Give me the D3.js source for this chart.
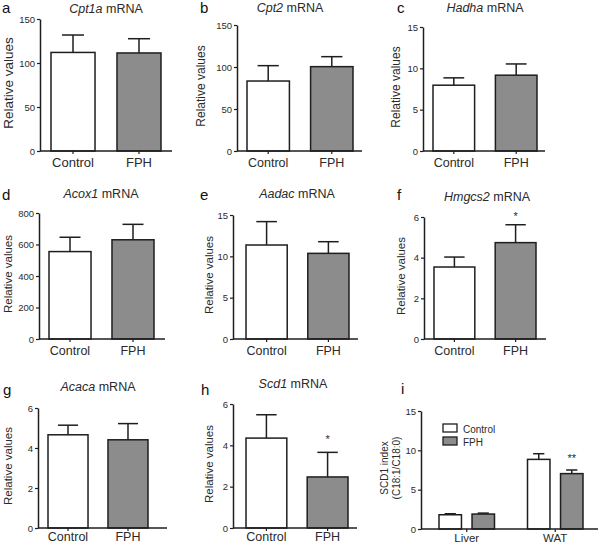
<!DOCTYPE html>
<html><head><meta charset="utf-8">
<script src="https://cdn.jsdelivr.net/npm/d3@7"></script>
<style>
body{margin:0;background:#fff;}
svg{display:block;font-family:"Liberation Sans",Arial,sans-serif;}
</style></head>
<body><svg id="chart" width="600" height="545"></svg>
<script>
// ---- data ----
const groups = ["Control", "FPH"];
const panelLetters = ["a","b","c","d","e","f","g","h"];
const genes = ["Cpt1a","Cpt2","Hadha","Acox1","Aadac","Hmgcs2","Acaca","Scd1"];
const ctrlMean = [112, 83.3, 7.96, 555, 11.37, 3.54, 4.66, 4.35];
const ctrlTop  = [131.8, 101.6, 8.85, 646, 14.2, 4.03, 5.14, 5.48];
const fphMean  = [111.4, 100.4, 9.17, 630, 10.36, 4.74, 4.41, 2.47];
const fphTop   = [127.6, 112.3, 10.53, 728, 11.77, 5.62, 5.22, 3.66];
const yMax     = [150, 150, 15, 800, 15, 6, 6, 6];
const yTicks   = [[0,50,100,150],[0,50,100,150],[0,5,10,15],[0,200,400,600,800],[0,5,10,15],[0,2,4,6],[0,2,4,6],[0,2,4,6]];
const fphStars = ["","","","","","*","","*"];
const yAxisTitle = "Relative values";

// panel i
const tissues = ["Liver", "WAT"];
const scdCtrlMean = [1.81, 8.85];
const scdCtrlTop  = [1.94, 9.57];
const scdFphMean  = [1.9, 7.04];
const scdFphTop   = [2.02, 7.5];
const scdStars    = ["", "**"];
const scdTicks    = [0, 5, 10, 15];
const scdMax      = 15;
const scdTitle    = ["SCD1 index", "(C18:1/C18:0)"];

// ---- layout (positions only) ----
const layout = [
  {ax:40, end:172, top:19, bot:151, b0:51, b1:161, lx:13, lbl:13.5, cat:13, tx:106, ty:13, lt:[2,13], catY:167, sg:0},
  {ax:237, end:362, top:25, bot:151, b0:247, b1:353, lx:205, lbl:12, cat:12.5, tx:290, ty:12, lt:[200,13], catY:167, sg:0},
  {ax:423, end:545, top:27, bot:151, b0:433, b1:537, lx:400, lbl:12, cat:12.5, tx:485, ty:12, lt:[397,13], catY:167, sg:0},
  {ax:39, end:165, top:213, bot:339, b0:49, b1:154, lx:12, lbl:11.5, cat:12.5, tx:101, ty:198, lt:[2,200], catY:355, sg:0},
  {ax:233, end:358, top:215, bot:339, b0:246, b1:349, lx:213, lbl:11.5, cat:12.5, tx:297, ty:198, lt:[200,200], catY:355, sg:0},
  {ax:424, end:546, top:217, bot:339, b0:434, b1:536, lx:405, lbl:11.5, cat:12.5, tx:487, ty:201, lt:[397,200], catY:355, sg:4.5},
  {ax:38, end:167, top:408, bot:528, b0:48, b1:148, lx:12, lbl:11.5, cat:12.5, tx:98, ty:391, lt:[3,395], catY:541, sg:0},
  {ax:233, end:357, top:404, bot:528, b0:246, b1:348, lx:213, lbl:11.5, cat:12.5, tx:293, ty:388, lt:[201,395], catY:541, sg:9.5}
];
const INK = "#1e1e1e", TXT = "#2a2a2a", GRAY = "#8c8c8c";
const svg = d3.select("#chart");

function yAxisDraw(g, y, ticks, x) {
  const ax = d3.axisLeft(y).tickValues(ticks).tickFormat(d3.format("d")).tickSize(3).tickPadding(2).tickSizeOuter(0);
  const a = g.append("g").attr("transform", `translate(${x},0)`).call(ax);
  a.select(".domain").attr("stroke", INK).attr("stroke-width", 1.5);
  a.selectAll(".tick line").attr("stroke", INK).attr("stroke-width", 1.2);
  a.selectAll(".tick text").attr("fill", TXT).style("font-size", "9.5px").style("font-family", "Liberation Sans, Arial, sans-serif");
}

function errBar(g, cx, w, yv, yt) {
  g.append("line").attr("x1", cx).attr("x2", cx).attr("y1", yv).attr("y2", yt).attr("stroke", INK).attr("stroke-width", 1.5);
  g.append("line").attr("x1", cx - w/4).attr("x2", cx + w/4).attr("y1", yt).attr("y2", yt).attr("stroke", INK).attr("stroke-width", 1.5);
}

genes.forEach((gene, i) => {
  const L = layout[i];
  const g = svg.append("g");
  const y = d3.scaleLinear().domain([0, yMax[i]]).range([L.bot, L.top]);
  const x = d3.scaleBand().domain(groups).range([L.b0, L.b1]).paddingInner(0.333).paddingOuter(0);
  const means = [ctrlMean[i], fphMean[i]], tops = [ctrlTop[i], fphTop[i]];
  groups.forEach((grp, k) => {
    const cx = x(grp) + x.bandwidth()/2;
    errBar(g, cx, x.bandwidth(), y(means[k]), y(tops[k]));
    g.append("rect").attr("x", x(grp)).attr("y", y(means[k])).attr("width", x.bandwidth()).attr("height", L.bot - y(means[k]))
      .attr("fill", k === 0 ? "#fff" : GRAY).attr("stroke", INK).attr("stroke-width", 1.5);
  });
  // x axis
  g.append("line").attr("x1", L.ax).attr("x2", L.end).attr("y1", L.bot).attr("y2", L.bot).attr("stroke", INK).attr("stroke-width", 1.5);
  groups.forEach(grp => {
    const cx = x(grp) + x.bandwidth()/2;
    g.append("line").attr("x1", cx).attr("x2", cx).attr("y1", L.bot).attr("y2", L.bot + 3).attr("stroke", INK).attr("stroke-width", 1.2);
    g.append("text").attr("x", cx).attr("y", L.catY).attr("text-anchor", "middle").attr("fill", TXT).style("font-size", L.cat + "px").text(grp);
  });
  yAxisDraw(g, y, yTicks[i], L.ax);
  // star
  if (fphStars[i]) {
    const cx = x("FPH") + x.bandwidth()/2;
    g.append("text").attr("x", cx).attr("y", y(fphTop[i]) - L.sg).attr("text-anchor", "middle").attr("fill", TXT).style("font-size", "11px").text(fphStars[i]);
  }
  // y title
  g.append("text").attr("transform", `translate(${L.lx},${(L.top + L.bot)/2 - 2}) rotate(-90)`).attr("text-anchor", "middle")
    .attr("fill", TXT).style("font-size", L.lbl + "px").text(yAxisTitle);
  // title
  const t = g.append("text").attr("x", L.tx).attr("y", L.ty).attr("text-anchor", "middle").attr("fill", TXT).style("font-size", "12.5px");
  t.append("tspan").style("font-style", "italic").text(gene);
  t.append("tspan").text(" mRNA");
  // letter
  g.append("text").attr("x", L.lt[0]).attr("y", L.lt[1]).attr("fill", "#111").style("font-size", "15px").text(panelLetters[i]);
});

// ---- panel i ----
(function(){
  const g = svg.append("g");
  const ax = 421, end = 598, top = 411, bot = 529;
  const y = d3.scaleLinear().domain([0, scdMax]).range([bot, top]);
  const x0 = d3.scaleBand().domain(tissues).range([439, 583]).paddingInner(0.373).paddingOuter(0);
  const x1 = d3.scaleBand().domain(groups).range([0, x0.bandwidth()]).paddingInner(0.32).paddingOuter(0);
  tissues.forEach((ts, j) => {
    const means = [scdCtrlMean[j], scdFphMean[j]], tops = [scdCtrlTop[j], scdFphTop[j]];
    groups.forEach((grp, k) => {
      const bx = x0(ts) + x1(grp), w = x1.bandwidth(), cx = bx + w/2;
      errBar(g, cx, w, y(means[k]), y(tops[k]));
      g.append("rect").attr("x", bx).attr("y", y(means[k])).attr("width", w).attr("height", bot - y(means[k]))
        .attr("fill", k === 0 ? "#fff" : GRAY).attr("stroke", INK).attr("stroke-width", 1.5);
    });
    if (scdStars[j]) {
      const cx = x0(ts) + x1("FPH") + x1.bandwidth()/2;
      g.append("text").attr("x", cx).attr("y", y(scdFphTop[j]) - 8).attr("text-anchor", "middle").attr("fill", TXT).style("font-size", "11px").text(scdStars[j]);
    }
    const gc = x0(ts) + x0.bandwidth()/2;
    g.append("line").attr("x1", gc).attr("x2", gc).attr("y1", bot).attr("y2", bot + 3).attr("stroke", INK).attr("stroke-width", 1.2);
    g.append("text").attr("x", gc).attr("y", 542).attr("text-anchor", "middle").attr("fill", TXT).style("font-size", "11.5px").text(ts);
  });
  g.append("line").attr("x1", ax).attr("x2", end).attr("y1", bot).attr("y2", bot).attr("stroke", INK).attr("stroke-width", 1.5);
  yAxisDraw(g, y, scdTicks, ax);
  // y title two lines
  const yt = g.append("text").attr("transform", `translate(388,${(top + bot)/2 - 2}) rotate(-90)`).attr("text-anchor", "middle")
    .attr("fill", TXT).style("font-size", "10px");
  yt.append("tspan").attr("x", 0).attr("dy", 0).text(scdTitle[0]);
  yt.append("tspan").attr("x", 0).attr("dy", 12).text(scdTitle[1]);
  // legend
  groups.forEach((grp, k) => {
    const ly = 424 + k * 13;
    g.append("rect").attr("x", 443).attr("y", ly).attr("width", 14).attr("height", 8)
      .attr("fill", k === 0 ? "#fff" : GRAY).attr("stroke", INK).attr("stroke-width", 1.3);
    g.append("text").attr("x", 463).attr("y", ly + 8.5).attr("fill", TXT).style("font-size", "10px").text(grp);
  });
  g.append("text").attr("x", 401).attr("y", 394).attr("fill", "#111").style("font-size", "15px").text("i");
})();
</script>
</body></html>
